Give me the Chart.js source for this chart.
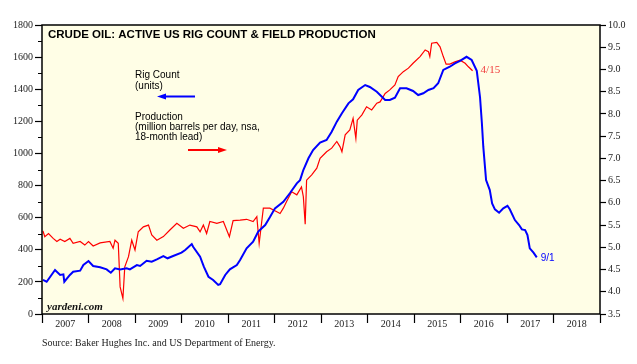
<!DOCTYPE html>
<html>
<head>
<meta charset="utf-8">
<script src="https://cdn.jsdelivr.net/npm/chart.js@4"></script>
<style>
  body { margin: 0; background: #fff; }
  #wrap { width: 637px; height: 364px; }
</style>
</head>
<body>
<div id="wrap"><canvas id="oil" width="637" height="364"></canvas></div>
<script>
// x values are decimal years as placed on the chart
const rigDates = [2007.02, 2007.10, 2007.28, 2007.39, 2007.46, 2007.48, 2007.60, 2007.67, 2007.82, 2007.89,
  2008.00, 2008.10, 2008.25, 2008.39, 2008.48, 2008.57, 2008.68, 2008.82, 2008.89, 2009.04,
  2009.11, 2009.25, 2009.36, 2009.47, 2009.61, 2009.70, 2009.82, 2010.00, 2010.08, 2010.22,
  2010.25, 2010.40, 2010.48, 2010.58, 2010.68, 2010.79, 2010.83, 2010.94, 2011.04, 2011.19,
  2011.26, 2011.40, 2011.54, 2011.65, 2011.80, 2011.90, 2012.01, 2012.19, 2012.33, 2012.48,
  2012.55, 2012.62, 2012.73, 2012.83, 2012.98, 2013.12, 2013.23, 2013.34, 2013.45, 2013.59,
  2013.69, 2013.80, 2013.95, 2014.05, 2014.20, 2014.38, 2014.48, 2014.59, 2014.70, 2014.84,
  2014.98, 2015.09, 2015.20, 2015.31, 2015.42, 2015.52, 2015.63, 2015.77, 2015.88, 2015.99,
  2016.13, 2016.24, 2016.35, 2016.42, 2016.46, 2016.49, 2016.55, 2016.63, 2016.68, 2016.74,
  2016.83, 2016.92, 2017.01, 2017.06, 2017.17, 2017.26, 2017.32, 2017.39, 2017.44, 2017.49,
  2017.57, 2017.64];
const rigCount = [212, 201, 274, 243, 247, 201, 243, 263, 270, 305,
  330, 299, 291, 278, 257, 285, 278, 285, 278, 305,
  299, 332, 326, 340, 361, 347, 361, 382, 399, 436,
  419, 357, 295, 232, 212, 181, 185, 243, 278, 305,
  336, 409, 450, 513, 554, 602, 658, 699, 752, 814,
  834, 897, 970, 1021, 1067, 1084, 1135, 1198, 1250, 1312,
  1337, 1395, 1426, 1414, 1384, 1333, 1333, 1347, 1406, 1406,
  1389, 1364, 1375, 1395, 1406, 1437, 1520, 1540, 1561, 1576,
  1602, 1582, 1515, 1350, 1188, 1042, 834, 772, 689, 652,
  631, 658, 674, 652, 585, 554, 527, 523, 492, 409,
  382, 353];

const prodDates = [2007.02, 2007.06, 2007.14, 2007.24, 2007.32, 2007.39, 2007.49, 2007.60, 2007.67, 2007.82,
  2007.92, 2008.00, 2008.10, 2008.25, 2008.46, 2008.53, 2008.57, 2008.64, 2008.68, 2008.74,
  2008.78, 2008.86, 2008.93, 2009.00, 2009.07, 2009.18, 2009.29, 2009.36, 2009.47, 2009.61,
  2009.75, 2009.90, 2010.04, 2010.18, 2010.33, 2010.40, 2010.47, 2010.54, 2010.61, 2010.76,
  2010.90, 2011.03, 2011.11, 2011.26, 2011.40, 2011.54, 2011.62, 2011.67, 2011.76, 2011.90,
  2012.05, 2012.12, 2012.19, 2012.26, 2012.37, 2012.48, 2012.58, 2012.62, 2012.66, 2012.69,
  2012.80, 2012.91, 2012.98, 2013.12, 2013.23, 2013.34, 2013.41, 2013.45, 2013.52, 2013.62,
  2013.69, 2013.75, 2013.78, 2013.88, 2013.98, 2014.09, 2014.20, 2014.27, 2014.38, 2014.48,
  2014.59, 2014.66, 2014.77, 2014.88, 2014.98, 2015.13, 2015.24, 2015.31, 2015.34, 2015.38,
  2015.49, 2015.56, 2015.63, 2015.69, 2015.77, 2015.88, 2015.99, 2016.10, 2016.17, 2016.26];
const production = [5.37, 5.24, 5.31, 5.20, 5.13, 5.18, 5.13, 5.20, 5.09, 5.13,
  5.05, 5.13, 5.03, 5.10, 5.13, 4.98, 5.16, 5.09, 4.11, 3.85,
  4.56, 4.79, 5.16, 4.94, 5.35, 5.46, 5.50, 5.28, 5.16, 5.24,
  5.39, 5.54, 5.43, 5.50, 5.46, 5.35, 5.50, 5.31, 5.58, 5.54,
  5.58, 5.24, 5.60, 5.61, 5.63, 5.58, 5.69, 5.09, 5.88, 5.88,
  5.80, 5.76, 5.88, 6.03, 6.25, 6.18, 6.36, 6.14, 5.52, 6.51,
  6.63, 6.78, 7.00, 7.15, 7.23, 7.38, 7.26, 7.15, 7.53, 7.64,
  7.90, 7.45, 7.86, 7.98, 8.16, 8.09, 8.24, 8.27, 8.46, 8.54,
  8.65, 8.84, 8.95, 9.03, 9.14, 9.29, 9.44, 9.40, 9.29, 9.59,
  9.61, 9.51, 9.29, 9.12, 9.12, 9.17, 9.21, 9.14, 9.06, 8.97];

const yearLabels = [2007, 2008, 2009, 2010, 2011, 2012, 2013, 2014, 2015, 2016, 2017, 2018];
const rigLabel = '9/1';
const prodLabel = '4/15';

const BLUE = '#0000ff';
const RED = '#ff0000';
const INK = '#222';

function toPoints(xs, ys) {
  return xs.map((x, i) => ({ x: x, y: ys[i] }));
}

const decor = {
  id: 'decor',
  beforeDraw(chart) {
    const { ctx, chartArea: a } = chart;
    ctx.save();
    ctx.fillStyle = '#fffee6';
    ctx.fillRect(a.left, a.top, a.right - a.left, a.bottom - a.top);
    ctx.restore();
  },
  afterDraw(chart) {
    const { ctx, chartArea: a } = chart;
    const yl = chart.scales.y;
    ctx.save();
    // frame
    ctx.strokeStyle = '#000';
    ctx.lineWidth = 1.5;
    ctx.strokeRect(a.left, a.top, a.right - a.left, a.bottom - a.top);
    // minor ticks on the left axis
    ctx.lineWidth = 1;
    ctx.beginPath();
    for (let v = 100; v < 1800; v += 200) {
      const py = Math.round(yl.getPixelForValue(v)) + 0.5;
      ctx.moveTo(a.left - 4, py);
      ctx.lineTo(a.left, py);
    }
    ctx.stroke();

    // title
    ctx.fillStyle = '#000';
    ctx.font = 'bold 11.5px "Liberation Sans", Arial, sans-serif';
    ctx.textBaseline = 'alphabetic';
    ctx.fillText('CRUDE OIL: ACTIVE US RIG COUNT & FIELD PRODUCTION', a.left + 6, a.top + 13);

    // legend text
    ctx.font = '10px "Liberation Sans", Arial, sans-serif';
    ctx.fillText('Rig Count', 135, 78);
    ctx.fillText('(units)', 135, 89);
    ctx.fillText('Production', 135, 120);
    ctx.fillText('(million barrels per day, nsa,', 135, 130);
    ctx.fillText('18-month lead)', 135, 140);

    // legend arrows
    ctx.lineWidth = 2;
    ctx.strokeStyle = BLUE;
    ctx.fillStyle = BLUE;
    ctx.beginPath(); ctx.moveTo(163, 96.5); ctx.lineTo(195, 96.5); ctx.stroke();
    ctx.beginPath(); ctx.moveTo(157, 96.5); ctx.lineTo(166, 93.5); ctx.lineTo(166, 99.5); ctx.closePath(); ctx.fill();
    ctx.strokeStyle = RED;
    ctx.fillStyle = RED;
    ctx.beginPath(); ctx.moveTo(188, 150); ctx.lineTo(221, 150); ctx.stroke();
    ctx.beginPath(); ctx.moveTo(227, 150); ctx.lineTo(218, 147); ctx.lineTo(218, 153); ctx.closePath(); ctx.fill();

    // end-point labels
    const xs = chart.scales.x;
    const yr = chart.scales.y2;
    ctx.textBaseline = 'middle';
    ctx.font = '10px "Liberation Sans", Arial, sans-serif';
    ctx.fillStyle = BLUE;
    ctx.fillText(rigLabel, xs.getPixelForValue(rigDates[rigDates.length - 1]) + 4,
      yl.getPixelForValue(rigCount[rigCount.length - 1]) + 1);
    ctx.font = '11px "Liberation Serif", "Times New Roman", serif';
    ctx.fillStyle = '#f03c3c';
    ctx.fillText(prodLabel, xs.getPixelForValue(prodDates[prodDates.length - 1]) + 8,
      yr.getPixelForValue(production[production.length - 1]) - 1);

    // watermark and source
    ctx.textBaseline = 'alphabetic';
    ctx.fillStyle = '#111';
    ctx.font = 'italic bold 11px "Liberation Serif", "Times New Roman", serif';
    ctx.fillText('yardeni.com', a.left + 5, a.bottom - 4);
    ctx.fillStyle = INK;
    ctx.font = '10px "Liberation Serif", "Times New Roman", serif';
    ctx.fillText('Source: Baker Hughes Inc. and US Department of Energy.', 42, 346);
    ctx.restore();
  }
};

const serif = { family: '"Liberation Serif", "Times New Roman", serif', size: 10 };

new Chart(document.getElementById('oil'), {
  type: 'line',
  data: {
    datasets: [{
      label: 'Rig Count',
      data: toPoints(rigDates, rigCount),
      yAxisID: 'y',
      borderColor: BLUE,
      borderWidth: 2,
      pointRadius: 0,
      tension: 0
    }, {
      label: 'Production',
      data: toPoints(prodDates, production),
      yAxisID: 'y2',
      borderColor: RED,
      borderWidth: 1.2,
      pointRadius: 0,
      tension: 0
    }]
  },
  options: {
    responsive: false,
    animation: false,
    layout: { padding: { top: 25, left: 0, right: 0, bottom: 0 } },
    plugins: {
      legend: { display: false },
      title: { display: false },
      tooltip: { enabled: false }
    },
    scales: {
      x: {
        type: 'linear',
        min: 2007,
        max: 2019,
        afterBuildTicks(scale) {
          const t = [];
          yearLabels.forEach(yr => { t.push({ value: yr }); t.push({ value: yr + 0.5 }); });
          t.push({ value: 2019 });
          scale.ticks = t;
        },
        afterFit(scale) { scale.height = 50; },
        border: { display: false },
        grid: {
          drawOnChartArea: false,
          tickLength: 9,
          tickWidth: 1.2,
          tickColor: ctx => (ctx.tick && ctx.tick.value % 1 === 0) ? '#000' : 'rgba(0,0,0,0)'
        },
        ticks: {
          autoSkip: false,
          maxRotation: 0,
          padding: -5,
          color: INK,
          font: serif,
          callback: v => (v % 1 === 0) ? '' : String(Math.floor(v))
        }
      },
      y: {
        position: 'left',
        min: 0,
        max: 1800,
        afterFit(scale) { scale.width = 42; },
        border: { display: false },
        grid: { drawOnChartArea: false, tickLength: 7, tickColor: '#000', tickWidth: 1.2 },
        ticks: { stepSize: 200, padding: 2, color: INK, font: serif, callback: v => String(v) }
      },
      y2: {
        position: 'right',
        min: 3.5,
        max: 10,
        afterFit(scale) { scale.width = 37; },
        border: { display: false },
        grid: { drawOnChartArea: false, tickLength: 6, tickColor: '#000', tickWidth: 1.2 },
        ticks: { stepSize: 0.5, padding: 2, color: INK, font: serif, callback: v => v.toFixed(1) }
      }
    }
  },
  plugins: [decor]
});
</script>
</body>
</html>
